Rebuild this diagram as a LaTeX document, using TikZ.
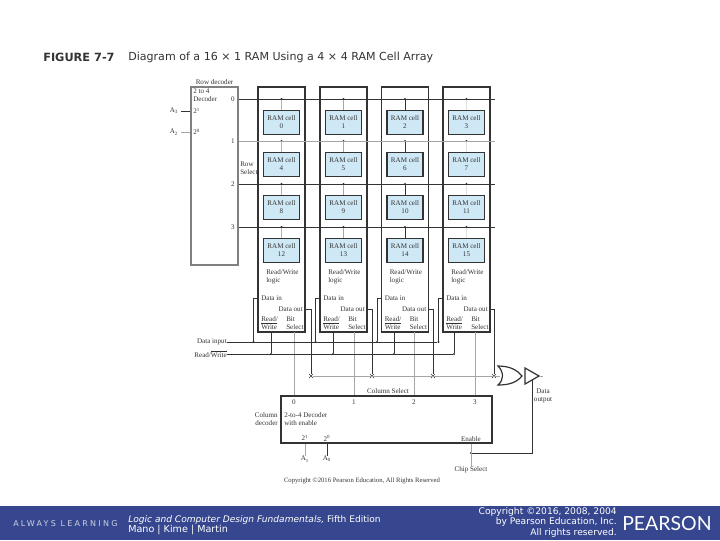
\documentclass[tikz,border=0pt]{standalone}
\usepackage{fontspec}
\setmainfont{Liberation Serif}
\newfontfamily\slidefont{DejaVu Sans}
\newfontfamily\spacedfont[LetterSpace=28]{DejaVu Sans}
\newfontfamily\logofont{Lato}
\usetikzlibrary{shapes.misc}
\definecolor{cellblue}{HTML}{CFE8F5}
\definecolor{barblue}{HTML}{36478F}
\definecolor{ink}{HTML}{333333}
\tikzset{
  lbl/.style={inner sep=0,text=ink,font=\fontsize{5.3}{6}\selectfont,align=left},
  wire/.style={line width=.6pt,ink},
  faint/.style={line width=.6pt,gray!70},
  outerbox/.style={draw=ink,line width=.8pt,minimum width=35.25pt,minimum height=183.75pt,inner sep=0},
  ramcell/.style={draw=ink,line width=.8pt,fill=cellblue,minimum width=27pt,minimum height=17.5pt,inner sep=0,
    text=ink,font=\fontsize{5.3}{6}\selectfont,align=center},
  dot/.style={circle,fill=ink,inner sep=0,minimum size=1.8pt},
  xmark/.style={cross out,draw=ink,line width=.4pt,inner sep=0,minimum size=2.6pt},
  foot/.style={inner sep=0,text=white,font=\slidefont\fontsize{6.9}{7.9}\selectfont}
}
\begin{document}
\begin{tikzpicture}[x=.75pt,y=-.75pt]
  \useasboundingbox (0,0) rectangle (720,540);
  \fill[barblue] (0,506) rectangle (720,540);%footer bar
  \node[inner sep=0,anchor=west,font=\slidefont\bfseries\fontsize{8.5}{9}\selectfont,text=ink] (figno) at (43,57) {FIGURE 7-7};
  \node[inner sep=0,anchor=west,font=\slidefont\fontsize{8.3}{9}\selectfont,text=ink] (figtitle) at (128,57)
    {Diagram of a 16 × 1 RAM Using a 4 × 4 RAM Cell Array};
  % row decoder
  \node[draw=gray,line width=.8pt,minimum width=35.25pt,minimum height=133.5pt,inner sep=0] (rowdec) at (214.5,176) {};
  \node[lbl] (rowdectxt) at (214.5,82) {Row decoder};
  \node[lbl,anchor=west] (rowdectype) at (193,95.5) {2 to 4\\Decoder};
  \node[lbl] (athree) at (174,111) {A\textsubscript{3}};
  \node[lbl] (atwo) at (174,132) {A\textsubscript{2}};
  \node[lbl,anchor=west] (rowin) at (193,111) {2\textsuperscript{1}};
  \node[lbl,anchor=west] (rowinb) at (193,132) {2\textsuperscript{0}};
  \node[lbl,anchor=west] (rowsel) at (240,168) {Row\\Select};
  \draw[wire] (athree.east)+(3,0) -- (athree.east -| rowdec.west);
  \draw[faint] (atwo.east)+(3,0) -- (atwo.east -| rowdec.west);
  % columns of cells
  \foreach \c/\x/\tie in {1/281.5/gray!60,2/343.5/gray!70,3/405/ink,4/466.5/gray!25}{
    \node[outerbox] (col\c) at (\x,209.5) {};
    \node[lbl,anchor=west] (rwlogic\c) at (\x-15.5,276.5) {Read/Write\\logic};
    \node[lbl,anchor=west] (datain\c) at (\x-20.5,298) {Data in};
    \node[lbl,anchor=east] (dataout\c) at (\x+21.5,309) {Data out};
    \node[lbl,anchor=west] (rwpin\c) at (\x-20.5,323) {Read/\\$\overline{\hbox{Write}}$};
    \node[lbl,anchor=west] (bitpin\c) at (\x+4.5,323) {Bit\\Select};
    \foreach \r/\y in {0/99,1/141,2/184,3/227}{
      \pgfmathtruncatemacro{\n}{4*\r+\c-1}
      \pgfmathsetmacro{\cy}{\y+23.5}
      \node[ramcell] (cell\n) at (\x,\cy) {RAM cell\\\n};
      \node[dot] (tap\n) at (\x,\y) {};
      \draw[line width=.6pt,\tie] (tap\n) -- (cell\n);
    }
  }
  % row lines
  \foreach \r/\y/\sty in {0/99/wire,1/141/faint,2/184/wire,3/227/wire}{
    \node[lbl] (rownum\r) at (233,\y) {\r};
    \coordinate (rowend\r) at (495,\y);
    \draw[\sty] (rowend\r -| rowdec.east) -- (rowend\r);
  }
  % buses
  \node[lbl,anchor=east] (datainput) at (227,342) {Data input};
  \node[lbl,anchor=east] (readwrite) at (227,354) {Read/$\overline{\hbox{Write}}$};
  \node[draw=ink,line width=.8pt,minimum width=158.25pt,minimum height=35.25pt,inner sep=0] (coldec) at (386.5,419.5) {};
  \coordinate (gatein) at (500,376);
  \foreach \c/\x/\rw/\bs/\dout in {1/281.5/271/294/311,2/343.5/333/354/372,3/405/394/414/433,4/466.5/454/475/494}{
    \coordinate (instub\c) at (col\c.west |- datain\c);
    \node[dot] (inbus\c) at (\x-28,342) {};
    \draw[wire] (instub\c) -| (inbus\c);
    \coordinate (rwtop\c) at (\rw,332);
    \node[dot] (rwbus\c) at (\rw,354) {};
    \draw[wire] (rwtop\c) -- (rwbus\c);
    \coordinate (bittop\c) at (\bs,332);
    \draw[faint] (bittop\c) -- (bittop\c |- coldec.north);
    \coordinate (outstub\c) at (col\c.east |- dataout\c);
    \node[xmark] (sw\c) at (\dout,376) {};
    \draw[wire] (outstub\c) -| (sw\c);
  }
  \draw[wire] (datainput.east) -- (inbus4);
  \draw[wire] (readwrite.east) -- (rwbus4);
  \draw[faint] (sw1) -- (gatein);
  % column decoder
  \node[lbl,anchor=east,align=right] (coldectxt) at (278,419.5) {Column\\decoder};
  \node[lbl,anchor=west] (coldectype) at (284,419.5) {2-to-4 Decoder\\with enable};
  \foreach \bs/\t in {294/0,354/1,414/2,475/3}
    \node[lbl] (colnum\t) at (\bs,402) {\t};
  \node[lbl] (colsel) at (388,391) {Column Select};
  \node[lbl] (colinb) at (305,438) {2\textsuperscript{1}};
  \node[lbl] (colina) at (327,438) {2\textsuperscript{0}};
  \node[lbl] (aone) at (305,459) {A\textsubscript{1}};
  \node[lbl] (azero) at (327,459) {A\textsubscript{0}};
  \draw[faint] (coldec.south -| aone) -- (aone.north);
  \draw[wire] (coldec.south -| azero) -- (azero.north);
  \node[lbl,anchor=east] (enable) at (481,439) {Enable};
  \node[lbl] (chipsel) at (471,470) {Chip Select};
  \node[dot] (csdot) at (471,453) {};
  \draw[faint] (coldec.south -| csdot) -- (chipsel.north);
  % gate and output buffer
  \draw[line width=.9pt,ink] (498,366) .. controls (504,372) and (504,380) .. (498,385)
    .. controls (510,385) and (517,382) .. (522,376) .. controls (517,370) and (510,366) .. (498,366) -- cycle;%or
  \draw[line width=.9pt,ink] (525,368) -- (539,376) -- (525,384) -- cycle;%buffer
  \coordinate (bufpin) at (532,380);
  \coordinate (bufout) at (539,376);
  \coordinate (outend) at (543,376);
  \draw[faint] (bufout) -- (outend);
  \draw[wire] (csdot) -| (bufpin);
  \node[lbl,align=center] (dataoutput) at (543,396) {Data\\output};
  \node[lbl,font=\fontsize{5}{6}\selectfont] (copyline) at (362,481) {Copyright ©2016 Pearson Education, All Rights Reserved};
  % footer
  \node[foot,anchor=west,text=white!75!barblue,font=\spacedfont\fontsize{6}{7}\selectfont] (always) at (13,524) {ALWAYS LEARNING};
  \node[foot,anchor=west,font=\slidefont\itshape\fontsize{6.8}{7.9}\selectfont] (book) at (128,520)
    {Logic and Computer Design Fundamentals, {\upshape Fifth Edition}};
  \node[foot,anchor=west,font=\slidefont\fontsize{7.2}{8}\selectfont] (authors) at (128,530) {Mano | Kime | Martin};
  \node[foot,anchor=east,align=right,font=\slidefont\fontsize{6.85}{7.9}\selectfont] (rights) at (617,522)
    {Copyright ©2016, 2008, 2004\\by Pearson Education, Inc.\\All rights reserved.};
  \node[foot,anchor=west,font=\logofont\fontsize{14.6}{15}\selectfont] (logo) at (622,524) {PEARSON};
\end{tikzpicture}
\end{document}
